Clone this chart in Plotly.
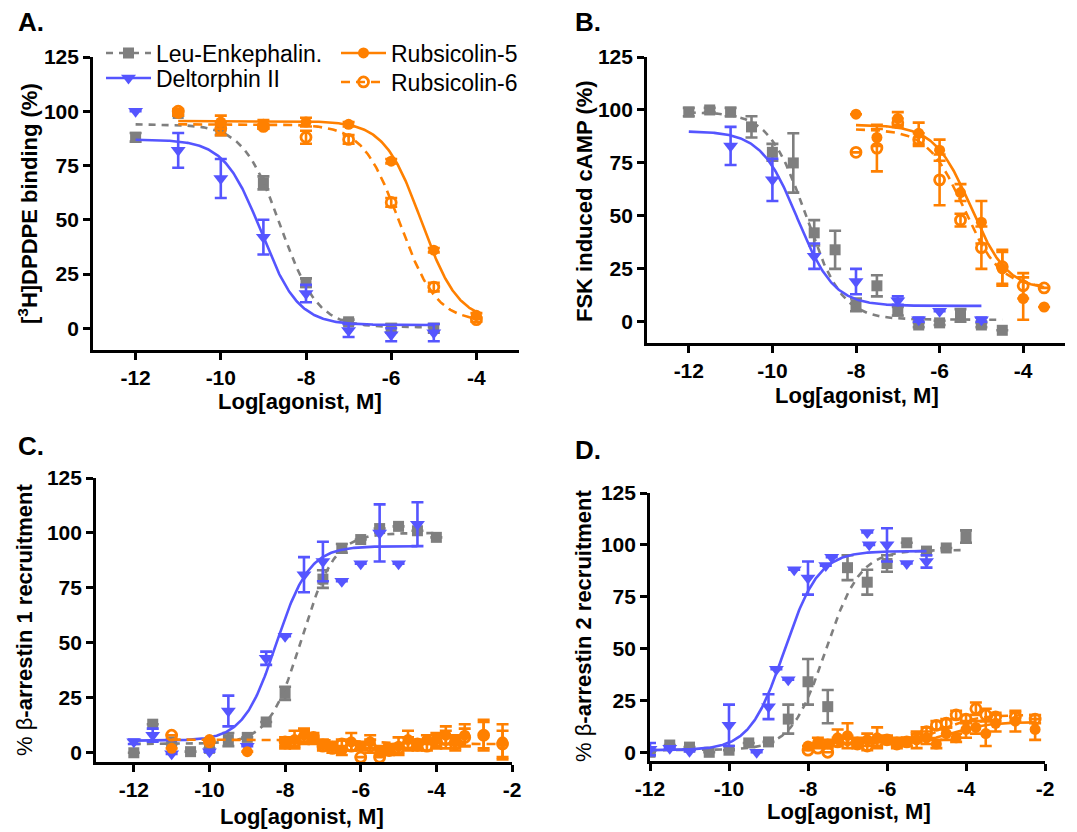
import numpy as np
import plotly.graph_objects as go

# ---------------- data ----------------
# Panel A: [3H]DPDPE binding
A_x_peptides = [-12, -11, -10, -9, -8, -7, -6, -5]
A_leu = [88, 99, 92, 67, 21, 3, 0, 0]
A_leu_err = [2, 1, 3, 3, 2, 1, 2, 2]
A_delt = [100, 82, 69, 42, 16, -1, -3, -2]
A_delt_err = [0, 8, 9, 8, 4, 3, 3, 4]
A_x_rub = [-11, -10, -9, -8, -7, -6, -5, -4]
A_r5 = [99, 95, 94, 95, 94, 77, 36, 6]
A_r5_err = [1, 3, 2, 2, 1, 1, 1, 1]
A_r6 = [100, 92, 93, 88, 87, 58, 19, 4]
A_r6_err = [1, 3, 1, 3, 2, 2, 2, 1]
# fit parameters: bottom, top, logEC50, hill, x from, x to
A_fit_leu = [0.5, 94, -8.6, -1.0, -12, -5]
A_fit_delt = [1.5, 87, -9.05, -1.0, -12, -5]
A_fit_r5 = [3, 95.5, -5.29, -1.0, -11, -4]
A_fit_r6 = [3, 94, -5.8, -1.0, -11, -4]

# Panel B: FSK induced cAMP
B_x_leu = [-12, -11.5, -11, -10.5, -10, -9.5, -9, -8.5, -8, -7.5, -7, -6.5, -6, -5.5, -5, -4.5]
B_leu = [99, 100, 99, 92, 80, 75, 42, 34, 8, 17, 5, -1.5, -0.5, 3, -1.5, -4]
B_leu_err = [2, 1, 2, 5, 4, 14, 6, 9, 3, 5, 2, 1, 1, 3, 1, 0]
B_x_delt = [-11, -10, -9, -8, -7, -6.5, -6, -5]
B_delt = [83, 67, 31, 19, 10, 1, 5, 1]
B_delt_err = [9, 10, 6, 6, 2, 1, 0, 1]
B_x_rub = [-8, -7.5, -7, -6.5, -6, -5.5, -5, -4.5, -4, -3.5]
B_r5 = [98, 87, 96, 89, 81, 61, 47, 25, 11, 7]
B_r5_err = [0, 4, 3, 5, 5, 4, 10, 8, 10, 0]
B_r6 = [80, 82, 94, 86, 67, 48, 35, 26, 17, 16]
B_r6_err = [0, 11, 2, 3, 12, 3, 10, 8, 6, 0]
B_fit_leu = [1, 99, -9.2, -1.0, -12, -4.5]
B_fit_delt = [7.5, 90, -9.4, -1.0, -12, -5]
B_fit_r5 = [15, 93, -5.25, -1.0, -8, -3.5]
B_fit_r6 = [16, 91, -5.42, -1.0, -8, -3.5]

# Panel C: beta-arrestin 1 recruitment
C_x_leu = [-12, -11.5, -11, -10.5, -10, -9.5, -9, -8.5, -8, -7, -6.5, -6, -5.5, -5, -4.5, -4]
C_leu = [0, 13, 5, 0.5, 2, 6, 7, 14, 27, 79, 93, 97, 102, 103, 101, 98]
C_leu_err = [0, 0, 1, 0, 0, 3, 0, 0, 3, 4, 2, 0, 0, 0, 0, 0]
C_x_delt = [-12, -11.5, -11, -10, -9.5, -9, -8.5, -8, -7.5, -7, -6.5, -6, -5.5, -5, -4.5]
C_delt = [5, 8, -0.5, 0.5, 19, 3, 43, 53, 81, 87, 78, 86, 100, 86, 104]
C_delt_err = [1, 3, 0, 0, 7, 0, 3, 0, 8, 9, 0, 0, 13, 0, 10]
C_x_r5 = [-11, -10, -9, -8, -7.75, -7.5, -7.25, -7, -6.75, -6.5, -6.25, -6, -5.75,
          -5.5, -5.25, -5, -4.75, -4.5, -4.25, -4, -3.75, -3.5, -3.25, -2.75, -2.25]
C_r5 = [2, 6, 0.5, 4, 6, 8, 6, 4, 3, 1, 5, 3, 5, 1, 2, 3, 6, 3, 6, 6, 8, 5, 8, 8, 5]
C_r5_err = [0, 0, 0, 2, 4, 3, 2, 2, 2, 2, 4, 2, 3, 2, 2, 4, 4, 2, 2, 3, 4, 3, 5, 7, 8]
C_x_r6 = [-11, -10, -8, -7.75, -7.5, -7.25, -7, -6.75, -6.5, -6.25, -6, -5.75,
          -5.5, -5.25, -5, -4.75, -4.5, -4.25, -4, -3.75, -3.5, -3.25, -2.75, -2.25]
C_r6 = [8, 5, 5, 5, 7, 7, 3, 2, 4, 3, -2, 3, -2, 1, 2, 4, 4, 3, 5, 6, 4, 7, 8, 4]
C_r6_err = [0, 0, 2, 2, 3, 2, 2, 2, 2, 2, 0, 3, 0, 2, 2, 3, 2, 2, 3, 4, 3, 4, 6, 6]
C_fit_leu = [4, 100, -7.56, 1.0, -12, -4]
C_fit_delt = [5.5, 94, -8.23, 1.0, -12, -4.5]
C_fit_r6 = [6, 4, -6.0, 1.0, -11, -2.25]

# Panel D: beta-arrestin 2 recruitment
D_x_leu = [-12, -11.5, -11, -10.5, -10, -9.5, -9, -8.5, -8, -7.5, -7, -6.5, -6, -5.5, -5, -4.5, -4]
D_leu = [0, 3.5, 2.5, 0, 1, 4.5, 5, 16, 34, 22, 89, 82, 91, 101, 97, 98.5, 104]
D_leu_err = [0, 0, 0, 0, 0, 0, 0, 7, 11, 8, 6, 6, 4, 0, 0, 0, 3]
D_x_delt = [-12, -11.5, -11, -10, -9.3, -9, -8.8, -8.5, -8.35, -8, -7.55, -7.4, -6.5, -6.45, -6, -5.5, -5]
D_delt = [1.5, 2, 0.5, 13, 0, 22, 40, 35, 88, 84, 90, 94, 106, 100, 100, 91, 92]
D_delt_err = [3, 0, 0, 10, 0, 6, 0, 0, 0, 8, 0, 0, 0, 0, 8, 0, 3]
D_x_rub = [-8, -7.75, -7.5, -7.25, -7, -6.75, -6.5, -6.25, -6, -5.75, -5.5, -5.25,
           -5, -4.75, -4.5, -4.25, -4, -3.75, -3.5, -3.25, -2.75, -2.25]
D_r5 = [3, 5, 4, 7, 8, 5, 6, 7, 6, 5, 5, 6, 7, 4, 9, 7, 11, 12, 9, 14, 15, 11]
D_r5_err = [0, 2, 2, 4, 6, 2, 3, 5, 2, 2, 2, 4, 3, 2, 3, 2, 4, 3, 6, 4, 5, 5]
D_r6 = [1, 2, 0, 5, 6, 4, 3, 5, 6, 4, 5, 7, 10, 13, 14, 18, 16, 21, 18, 17, 17, 16]
D_r6_err = [0, 0, 0, 2, 2, 2, 2, 2, 2, 2, 2, 2, 2, 2, 2, 2, 2, 3, 3, 2, 2, 2]
D_fit_leu = [1, 97.5, -7.55, 1.0, -12, -4]
D_fit_delt = [1, 97, -8.6, 1.0, -12, -5]
D_fit_r5 = [4.5, 14.5, -4.3, 1.0, -8, -2.25]
D_fit_r6 = [4, 18, -4.6, 1.0, -8, -2.25]

y_ticks = [0, 25, 50, 75, 100, 125]
x_ticks_AB = [-12, -10, -8, -6, -4]
x_ticks_CD = [-12, -10, -8, -6, -4, -2]

names = ["Leu-Enkephalin.", "Deltorphin II", "Rubsicolin-5", "Rubsicolin-6"]

# ---------------- style ----------------
GREY = "#7F7F7F"
BLUE = "#5555FF"
ORANGE = "#FF8000"
FONT = "Liberation Sans, Arial, sans-serif"
W, H = 1077, 832
MSIZE = {"square": 11, "circle": 11, "circle-open": 10, "triangle-down": 13}

fig = go.Figure()


def curve(p):
    bottom, top, c, h, x0, x1 = p
    xs = np.linspace(x0, x1, 300)
    ys = bottom + (top - bottom) / (1 + 10 ** ((c - xs) * h))
    return xs, ys


def add_fit(p, ax, color, dash):
    xs, ys = curve(p)
    fig.add_trace(go.Scatter(x=xs, y=ys, mode="lines", showlegend=False, hoverinfo="skip",
                             line=dict(color=color, width=2.6, dash=dash),
                             xaxis="x" + ax, yaxis="y" + ax))


def add_pts(x, y, err, ax, color, symbol):
    e = [v if v else None for v in err]
    open_ = symbol.endswith("open")
    fig.add_trace(go.Scatter(
        x=x, y=y, mode="markers", showlegend=False,
        marker=dict(symbol=symbol, size=MSIZE[symbol], color=color,
                    line=dict(color=color, width=2.8 if open_ else 0)),
        error_y=dict(type="data", array=e, visible=True, color=color, thickness=2.6, width=6),
        xaxis="x" + ax, yaxis="y" + ax))


DASH_G = "7px,6px"
DASH_O = "9px,6px"

# panel A
add_pts(A_x_peptides, A_leu, A_leu_err, "", GREY, "square")
add_fit(A_fit_leu, "", GREY, DASH_G)
add_pts(A_x_peptides, A_delt, A_delt_err, "", BLUE, "triangle-down")
add_fit(A_fit_delt, "", BLUE, "solid")
add_fit(A_fit_r6, "", ORANGE, DASH_O)
add_fit(A_fit_r5, "", ORANGE, "solid")
add_pts(A_x_rub, A_r5, A_r5_err, "", ORANGE, "circle")
add_pts(A_x_rub, A_r6, A_r6_err, "", ORANGE, "circle-open")

# panel B
add_pts(B_x_leu, B_leu, B_leu_err, "2", GREY, "square")
add_fit(B_fit_leu, "2", GREY, DASH_G)
add_pts(B_x_delt, B_delt, B_delt_err, "2", BLUE, "triangle-down")
add_fit(B_fit_delt, "2", BLUE, "solid")
add_fit(B_fit_r6, "2", ORANGE, DASH_O)
add_fit(B_fit_r5, "2", ORANGE, "solid")
add_pts(B_x_rub, B_r5, B_r5_err, "2", ORANGE, "circle")
add_pts(B_x_rub, B_r6, B_r6_err, "2", ORANGE, "circle-open")

# panel C
add_pts(C_x_leu, C_leu, C_leu_err, "3", GREY, "square")
add_fit(C_fit_leu, "3", GREY, DASH_G)
add_pts(C_x_delt, C_delt, C_delt_err, "3", BLUE, "triangle-down")
add_fit(C_fit_delt, "3", BLUE, "solid")
add_fit(C_fit_r6, "3", ORANGE, DASH_O)
add_pts(C_x_r5, C_r5, C_r5_err, "3", ORANGE, "circle")
add_pts(C_x_r6, C_r6, C_r6_err, "3", ORANGE, "circle-open")

# panel D
add_pts(D_x_leu, D_leu, D_leu_err, "4", GREY, "square")
add_fit(D_fit_leu, "4", GREY, DASH_G)
add_pts(D_x_delt, D_delt, D_delt_err, "4", BLUE, "triangle-down")
add_fit(D_fit_delt, "4", BLUE, "solid")
add_fit(D_fit_r6, "4", ORANGE, DASH_O)
add_fit(D_fit_r5, "4", ORANGE, "solid")
add_pts(D_x_rub, D_r5, D_r5_err, "4", ORANGE, "circle")
add_pts(D_x_rub, D_r6, D_r6_err, "4", ORANGE, "circle-open")

# legend entries (one small legend box per entry, so the spacing can follow the figure)
leg_style = [
    (GREY, DASH_G, "square", "legend"),
    (BLUE, "solid", "triangle-down", "legend2"),
    (ORANGE, "solid", "circle", "legend3"),
    (ORANGE, DASH_O, "circle-open", "legend4"),
]
for name, (col, dash, sym, lg) in zip(names, leg_style):
    fig.add_trace(go.Scatter(
        x=[None], y=[None], mode="lines+markers", name=name, legend=lg,
        line=dict(color=col, width=2.6, dash=dash),
        marker=dict(symbol=sym, size=MSIZE[sym], color=col,
                    line=dict(color=col, width=2.8 if sym.endswith("open") else 0)),
        xaxis="x", yaxis="y"))


def px_x(p):
    return p / W


def px_y(p):
    return 1 - p / H


def axis_style(rng, tickvals, dom, anchor):
    return dict(range=rng, tickmode="array", tickvals=tickvals,
                ticktext=["<b>%g</b>" % v for v in tickvals],
                domain=dom, anchor=anchor, automargin=False,
                showline=True, linewidth=2.7, linecolor="black", mirror=False,
                ticks="outside", ticklen=7, tickwidth=2.6, tickcolor="black",
                showgrid=False, zeroline=False, fixedrange=True,
                tickfont=dict(family=FONT, size=21, color="black"))


panels = {
    "": dict(xd=[93, 519], yd=[57, 350], xr=[-13, -3], yr=[-10, 125], xt=x_ticks_AB),
    "2": dict(xd=[647, 1065], yd=[57, 343], xr=[-13, -3], yr=[-10, 125], xt=x_ticks_AB),
    "3": dict(xd=[96, 512], yd=[478, 762], xr=[-13, -2], yr=[-4.2, 125], xt=x_ticks_CD),
    "4": dict(xd=[650, 1045], yd=[493, 761], xr=[-12, -2], yr=[-4.2, 125], xt=x_ticks_CD),
}
layout = {}
for k, p in panels.items():
    xdom = [px_x(p["xd"][0]), px_x(p["xd"][1])]
    ydom = [px_y(p["yd"][1]), px_y(p["yd"][0])]
    layout["xaxis" + k] = axis_style(p["xr"], p["xt"], xdom, "y" + k)
    layout["yaxis" + k] = axis_style(p["yr"], y_ticks, ydom, "x" + k)

ann = []


def add_text(text, px, py, angle=0, size=22, xanchor="center", bold=True):
    ann.append(dict(text=("<b>%s</b>" % text) if bold else text,
                    x=px_x(px), y=px_y(py), xref="paper", yref="paper",
                    showarrow=False, textangle=angle, xanchor=xanchor, yanchor="middle",
                    font=dict(family=FONT, size=size, color="black")))


# y titles
add_text("[<sup>3</sup>H]DPDPE binding (%)", 28, 204, angle=-90)
add_text("FSK induced cAMP (%)", 585, 201, angle=-90)
add_text("% β<b>-arrestin 1 recruitment</b>", 24, 620, angle=-90, bold=False)
add_text("% β<b>-arrestin 2 recruitment</b>", 583, 626, angle=-90, bold=False)
# x titles
add_text("Log[agonist, M]", 300, 401)
add_text("Log[agonist, M]", 857, 395)
add_text("Log[agonist, M]", 302, 816)
add_text("Log[agonist, M]", 849, 811)
# panel letters
add_text("A.", 16, 22, size=26, xanchor="left")
add_text("B.", 573, 22, size=26, xanchor="left")
add_text("C.", 16, 446, size=26, xanchor="left")
add_text("D.", 573, 450, size=26, xanchor="left")

leg_common = dict(bgcolor="rgba(0,0,0,0)", borderwidth=0, itemwidth=45,
                  font=dict(family=FONT, size=23, color="black"),
                  xanchor="left", yanchor="middle", itemclick=False)

fig.update_layout(**layout)
fig.update_layout(
    template="none",
    width=W, height=H, autosize=False,
    margin=dict(l=0, r=0, t=0, b=0, pad=0),
    paper_bgcolor="white", plot_bgcolor="white",
    annotations=ann,
    legend=dict(x=px_x(101), y=px_y(53), **leg_common),
    legend2=dict(x=px_x(101), y=px_y(78), **leg_common),
    legend3=dict(x=px_x(336), y=px_y(53), **leg_common),
    legend4=dict(x=px_x(336), y=px_y(82), **leg_common),
    showlegend=True,
)

fig.write_html("out.html", config={"displayModeBar": False},
               post_script="document.body.style.margin='0px';")
